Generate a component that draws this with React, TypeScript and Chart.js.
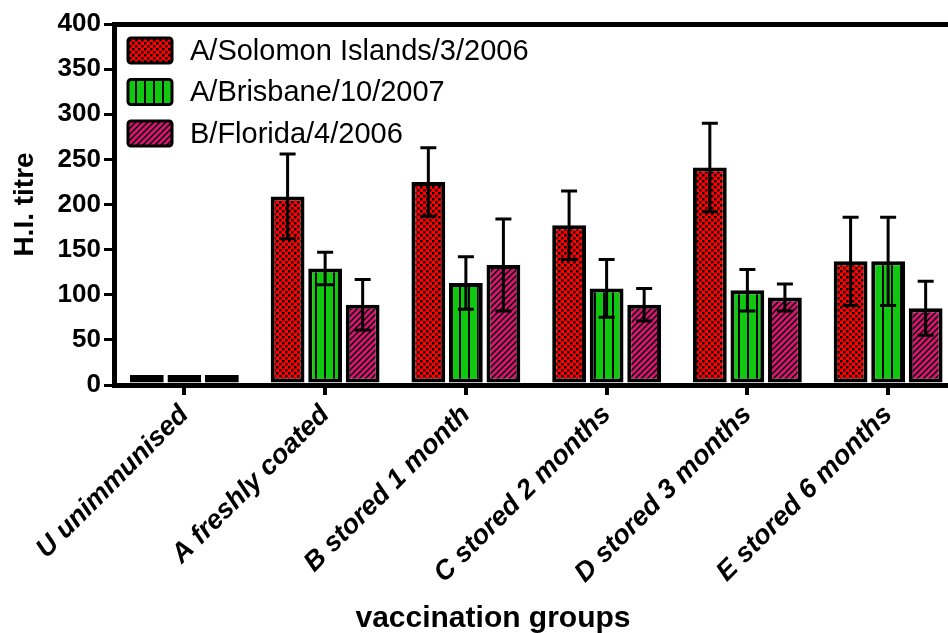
import React, { useEffect, useRef } from "react";
import { Chart, registerables } from "chart.js";

Chart.register(...registerables);

const categories = [
  "U unimmunised",
  "A freshly coated",
  "B stored 1 month",
  "C stored 2 months",
  "D stored 3 months",
  "E stored 6 months",
];
const seriesNames = ["A/Solomon Islands/3/2006", "A/Brisbane/10/2007", "B/Florida/4/2006"];
const solomonValues = [11, 209, 225, 177, 241, 137];
const solomonErrors = [0, 47, 38, 38, 49, 49];
const brisbaneValues = [11, 129, 113, 107, 105, 137];
const brisbaneErrors = [0, 18, 29, 32, 23, 49];
const floridaValues = [11, 89, 133, 89, 97, 85];
const floridaErrors = [0, 28, 51, 18, 15, 30];
const yMin = 0;
const yMax = 400;
const yStep = 50;
const yTitle = "H.I. titre";
const xTitle = "vaccination groups";

const FONT = '"Liberation Sans", Arial, sans-serif';

function makePattern(kind: string): CanvasPattern | string {
  const c = document.createElement("canvas");
  const g = c.getContext("2d");
  if (!g) return "#000";
  if (kind === "check") {
    c.width = 6; c.height = 6;
    g.fillStyle = "#ff0000"; g.fillRect(0, 0, 6, 6);
    g.fillStyle = "#000";
    g.fillRect(0, 0, 2.5, 2.5);
    g.fillRect(3, 3, 2.5, 2.5);
  } else if (kind === "vert") {
    c.width = 9; c.height = 4;
    g.fillStyle = "#10c810"; g.fillRect(0, 0, 9, 4);
    g.fillStyle = "#000";
    g.fillRect(0, 0, 2, 4);
  } else {
    c.width = 6; c.height = 6;
    g.fillStyle = "#d0186e"; g.fillRect(0, 0, 6, 6);
    g.strokeStyle = "#000"; g.lineWidth = 1.4;
    g.beginPath();
    g.moveTo(-1, 7); g.lineTo(7, -1);
    g.moveTo(-4, 4); g.lineTo(4, -4);
    g.moveTo(2, 10); g.lineTo(10, 2);
    g.stroke();
  }
  const p = g.createPattern(c, "repeat");
  return p || "#000";
}

export default function App() {
  const ref = useRef<HTMLCanvasElement | null>(null);

  useEffect(() => {
    if (!ref.current) return;
    const patterns = [makePattern("check"), makePattern("vert"), makePattern("hatch")];
    const errors = [solomonErrors, brisbaneErrors, floridaErrors];

    const errorBarPlugin = {
      id: "errorBars",
      afterDatasetsDraw(chart: any) {
        const ctx = chart.ctx;
        const ys = chart.scales.y;
        ctx.save();
        ctx.strokeStyle = "#000";
        ctx.lineWidth = 3;
        chart.data.datasets.forEach((ds: any, di: number) => {
          const meta = chart.getDatasetMeta(di);
          meta.data.forEach((el: any, i: number) => {
            const e = errors[di][i];
            if (!e) return;
            const v = ds.data[i];
            const yt = ys.getPixelForValue(v + e);
            const yb = ys.getPixelForValue(v - e);
            const x = el.x;
            ctx.beginPath();
            ctx.moveTo(x, yt); ctx.lineTo(x, yb);
            ctx.moveTo(x - 8, yt); ctx.lineTo(x + 8, yt);
            ctx.moveTo(x - 8, yb); ctx.lineTo(x + 8, yb);
            ctx.stroke();
          });
        });
        ctx.restore();
      },
    };

    const legendPlugin = {
      id: "innerLegend",
      afterDraw(chart: any) {
        const ctx = chart.ctx;
        ctx.save();
        chart.data.datasets.forEach((ds: any, i: number) => {
          const top = 38 + i * 41.5;
          const x = 128, w = 44, h = 25;
          ctx.beginPath();
          if ((ctx as any).roundRect) (ctx as any).roundRect(x, top, w, h, 3);
          else ctx.rect(x, top, w, h);
          ctx.fillStyle = ds.backgroundColor;
          ctx.fill();
          ctx.lineWidth = 3;
          ctx.strokeStyle = "#000";
          ctx.stroke();
          ctx.fillStyle = "#000";
          ctx.font = `29px ${FONT}`;
          ctx.textAlign = "left";
          ctx.textBaseline = "middle";
          ctx.fillText(ds.label, 190, top + h / 2 + 1);
        });
        ctx.font = `bold 30px ${FONT}`;
        ctx.textAlign = "center";
        ctx.textBaseline = "alphabetic";
        ctx.fillStyle = "#000";
        ctx.fillText(xTitle, 493, 627);
        ctx.restore();
      },
    };

    const values = [solomonValues, brisbaneValues, floridaValues];
    const chart = new Chart(ref.current, {
      type: "bar",
      data: {
        labels: categories,
        datasets: seriesNames.map((name, i) => ({
          label: name,
          data: values[i],
          backgroundColor: patterns[i] as any,
          borderColor: "#000",
          borderWidth: 4,
          borderSkipped: false,
        })),
      },
      options: {
        responsive: false,
        animation: false,
        devicePixelRatio: 1,
        layout: { padding: { left: 0, right: 11.5, top: 24, bottom: 0 } },
        plugins: { legend: { display: false }, tooltip: { enabled: false } },
        scales: {
          x: {
            offset: true,
            grid: {
              display: true,
              offset: false,
              drawOnChartArea: false,
              drawTicks: true,
              tickLength: 10,
              color: "#000",
              tickWidth: 4,
              lineWidth: 4,
            },
            border: { display: true, color: "#000", width: 5 },
            ticks: {
              color: "#000",
              font: { family: FONT, size: 27, weight: "bold", style: "italic" },
              maxRotation: 45,
              minRotation: 45,
              autoSkip: false,
              padding: 4,
            },
            afterFit: (s: any) => { s.height = 248; },
          } as any,
          y: {
            min: yMin,
            max: yMax,
            ticks: {
              stepSize: yStep,
              color: "#000",
              font: { family: FONT, size: 26, weight: "bold" },
              padding: 3,
            },
            grid: {
              drawOnChartArea: true,
              color: (c: any) => (c.tick && c.tick.value === yMax ? "#000" : "rgba(0,0,0,0)"),
              lineWidth: 5,
              tickColor: "#000",
              tickWidth: 3,
              tickLength: 10,
            },
            border: { display: true, color: "#000", width: 5 },
            title: {
              display: true,
              text: yTitle,
              color: "#000",
              font: { family: FONT, size: 28, weight: "bold" },
              padding: { top: 8, bottom: 0 },
            },
            afterFit: (s: any) => { s.width = 114; },
          } as any,
        },
      },
      plugins: [errorBarPlugin, legendPlugin],
    });
    return () => chart.destroy();
  }, []);

  return (
    <div style={{ position: "fixed", left: 0, top: 0, width: 948, height: 633, overflow: "hidden", background: "#fff" }}>
      <canvas ref={ref} width={970} height={633} style={{ display: "block", width: 970, height: 633 }} />
    </div>
  );
}
